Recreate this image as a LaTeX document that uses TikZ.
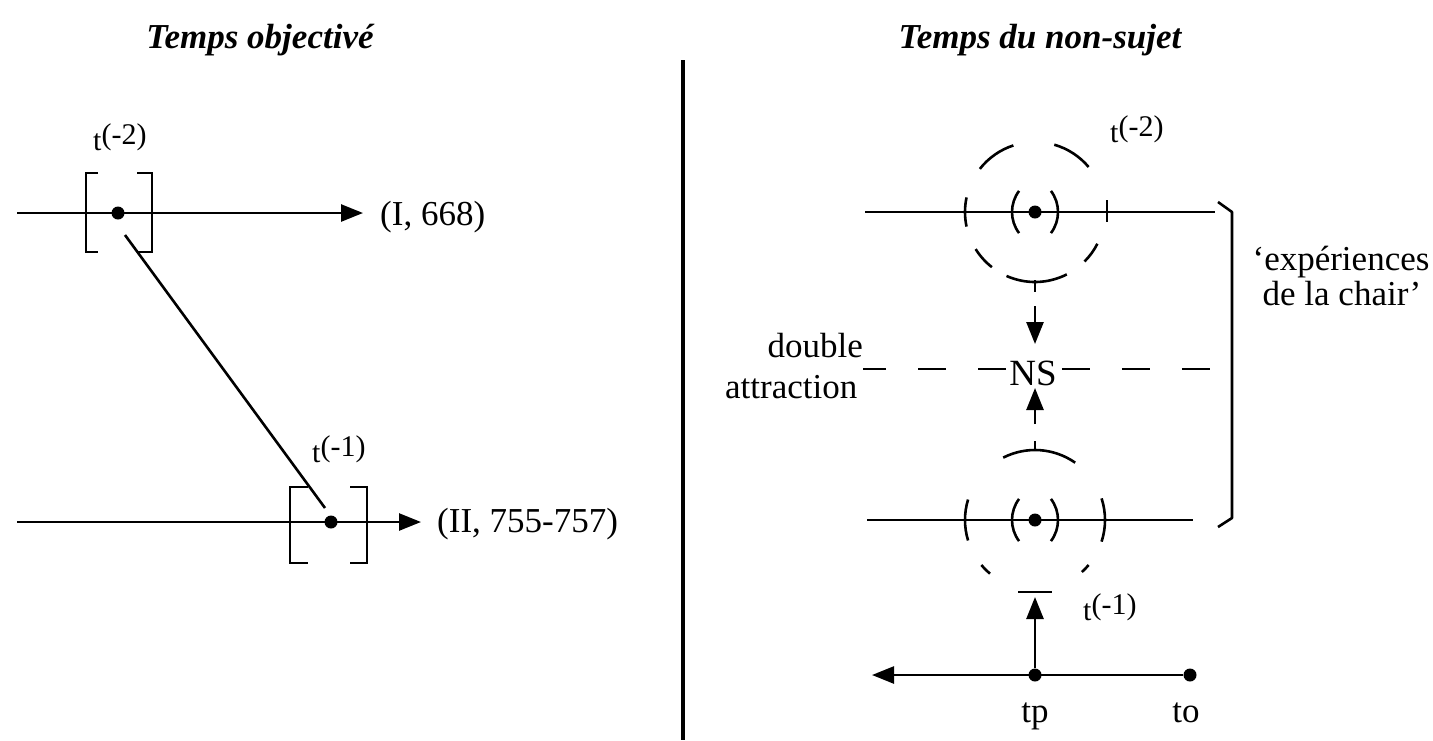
\documentclass[tikz,border=0pt]{standalone}
\usepackage{fontspec}
\setmainfont{Liberation Serif}
\usetikzlibrary{arrows.meta}
\begin{document}
\begin{tikzpicture}[x=1pt,y=-1pt,
  ln/.style={line width=2.6pt},
  dotn/.style={circle,fill=black,inner sep=0pt,minimum size=13pt},
  lbl/.style={font=\fontsize{35}{40}\selectfont, inner sep=0pt},
  tlbl/.style={font=\fontsize{30}{34}\selectfont, inner sep=0pt},
  ttl/.style={font=\fontsize{35}{40}\selectfont\bfseries\itshape, inner sep=0pt},
  tip/.style={-{Triangle[length=22pt,width=17pt]}},
  dashln/.style={line width=2.6pt, dash pattern=on 28pt off 32pt},
]
\useasboundingbox (0,0) rectangle (1433,740);

% titles and divider
\node[ttl, anchor=base] (titleL) at (260,48) {Temps objectivé};
\node[ttl, anchor=base] (titleR) at (1040,48) {Temps du non-sujet};
\coordinate (divT) at (683,60);
\coordinate (divB) at (683,740);
\draw[line width=3.5pt] (divT) -- (divB);

% ---------- left panel ----------
\coordinate (l1s) at (17,213);
\coordinate (l1e) at (363,213);
\draw[ln, tip] (l1s) -- (l1e);
\node[lbl, anchor=base west] (ref1) at (380,225) {(I, 668)};
\node[dotn] (d1) at (118,213) {};
\draw[ln] (98,173) -- (86,173) -- (86,252) -- (98,252);
\draw[ln] (137,173) -- (152,173) -- (152,252) -- (137,252);
\node[tlbl, anchor=base west] (tA) at (93,150) {t\raisebox{6pt}{(-2)}};

\coordinate (l2s) at (17,522);
\coordinate (l2e) at (421,522);
\draw[ln, tip] (l2s) -- (l2e);
\node[lbl, anchor=base west] (ref2) at (437,532) {(II, 755-757)};
\node[dotn] (d2) at (331,522) {};
\draw[ln] (308,487) -- (290,487) -- (290,563) -- (308,563);
\draw[ln] (350,487) -- (367,487) -- (367,563) -- (350,563);
\node[tlbl, anchor=base west] (tB) at (312,462) {t\raisebox{6pt}{(-1)}};

\coordinate (diagA) at (125,235);
\coordinate (diagB) at (325,508);
\draw[ln] (diagA) -- (diagB);

% ---------- right panel ----------
% upper time line
\coordinate (C1) at (1035,212);
\coordinate (r1s) at (865,212);
\coordinate (r1e) at (1215,212);
\draw[ln] (r1s) -- (r1e);
\node[dotn] (e1) at (C1) {};
\foreach \a/\b in {108/142, 40/74, 168/192, 212/232, 315/333, 246/297}
  \draw[ln] ([shift={(\a:70pt)}]C1) arc[start angle=\a, end angle=\b, radius=70pt];
\draw[ln] (1107,200) -- (1107,222);
\draw[ln] ([shift={(143:35pt)}]1047,212) arc[start angle=143, end angle=217, radius=35pt];
\draw[ln] ([shift={(-37:35pt)}]1023,212) arc[start angle=-37, end angle=37, radius=35pt];
\draw[ln] (1035,280) -- (1035,292);
\node[tlbl, anchor=base west] (tC) at (1110,142) {t\raisebox{6pt}{(-2)}};

% NS and dashed line
\node[font=\fontsize{37}{40}\selectfont, inner sep=0pt, anchor=base] (NS) at (1033,385) {NS};
\coordinate (dL) at (863,369);
\coordinate (dR) at (1213,369);
\draw[dashln] (NS.west |- dL) ++(-3,0) -- (dL);
\draw[dashln] (NS.east |- dR) ++(5,0) -- (dR);
\node[lbl, anchor=base east] (dbl) at (863,357) {double};
\node[lbl, anchor=base west] (attr) at (725,398) {attraction};

\coordinate (aDs) at (1035,306);
\coordinate (aDe) at (1035,344);
\draw[ln, tip] (aDs) -- (aDe);
\coordinate (aUs) at (1035,424);
\coordinate (aUe) at (1035,388);
\draw[ln, tip] (aUs) -- (aUe);

% lower time line
\coordinate (C2) at (1035,520);
\coordinate (r2s) at (867,520);
\coordinate (r2e) at (1193,520);
\draw[ln] (r2s) -- (r2e);
\node[dotn] (e2) at (C2) {};
\foreach \a/\b in {55/117, 163/197, -18/18, 220/230, 312/320}
  \draw[ln] ([shift={(\a:70pt)}]C2) arc[start angle=\a, end angle=\b, radius=70pt];
\draw[ln] (1035,441) -- (1035,449);
\draw[ln] ([shift={(143:35pt)}]1047,520) arc[start angle=143, end angle=217, radius=35pt];
\draw[ln] ([shift={(-37:35pt)}]1023,520) arc[start angle=-37, end angle=37, radius=35pt];
\draw[ln] (1018,592) -- (1052,592);
\node[tlbl, anchor=base west] (tD) at (1083,620) {t\raisebox{6pt}{(-1)}};

% bracket and label
\draw[ln, line join=round] (1218,202) -- (1232,212) -- (1232,518) -- (1218,527);
\node[lbl, anchor=base] (exp1) at (1341,270) {‘expériences};
\node[lbl, anchor=base] (exp2) at (1342,305) {de la chair’};

% present / objective time
\node[dotn] (tp) at (1035,675) {};
\node[dotn] (to) at (1190,675) {};
\coordinate (bl) at (872,675);
\draw[ln, tip] (to) -- (bl);
\draw[ln, tip] (tp) -- (aUe |- 0,597);
\node[lbl, anchor=base] (tpl) at (1035,722) {tp};
\node[lbl, anchor=base] (tol) at (1186,722) {to};
\end{tikzpicture}
\end{document}
